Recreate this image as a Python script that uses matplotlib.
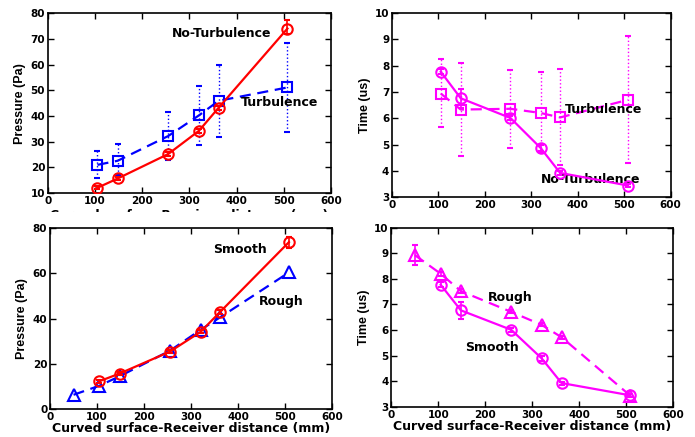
import matplotlib
matplotlib.use("Agg")
import matplotlib.pyplot as plt
from matplotlib.transforms import Bbox, TransformedBbox

plt.rcParams['font.family'] = ['Liberation Sans', 'DejaVu Sans']
plt.rcParams['font.weight'] = 'bold'
plt.rcParams['axes.labelweight'] = 'bold'

# distances (mm)
dist = [105, 148, 255, 320, 362, 508]
dist_rough = [50, 105, 148, 255, 320, 362, 508]

# top-left: pressure, turbulence comparison
p_noturb = [12.1, 15.7, 25.2, 34.2, 43.2, 74.0]
p_noturb_lo = [0.6, 0.6, 0.7, 0.7, 0.8, 2.3]
p_noturb_hi = [0.6, 0.6, 0.7, 0.7, 0.8, 3.4]
p_turb = [21.0, 22.6, 32.2, 40.2, 45.9, 51.1]
p_turb_lo = [5.2, 5.5, 9.4, 11.5, 14.2, 17.5]
p_turb_hi = [5.5, 6.7, 9.5, 11.6, 14.1, 17.4]

# top-right: time, turbulence comparison
t_noturb = [7.77, 6.76, 6.01, 4.87, 3.92, 3.44]
t_noturb_err = [0.1, 0.36, 0.08, 0.1, 0.08, 0.06]
t_turb = [6.94, 6.33, 6.36, 6.20, 6.03, 6.70]
t_turb_lo = [1.29, 1.75, 1.48, 1.48, 1.80, 2.40]
t_turb_hi = [1.30, 1.76, 1.46, 1.55, 1.83, 2.43]

# bottom-left: pressure, smooth vs rough
p_smooth = [12.3, 15.7, 25.4, 34.1, 43.0, 73.8]
p_smooth_err = [0.6, 0.6, 0.7, 0.7, 0.8, 2.4]
p_rough = [6.3, 10.3, 14.5, 25.8, 35.0, 40.6, 60.4]

# bottom-right: time, smooth vs rough
t_smooth = [7.77, 6.77, 6.01, 4.89, 3.93, 3.45]
t_smooth_err = [0.1, 0.33, 0.07, 0.08, 0.06, 0.05]
t_rough = [8.93, 8.20, 7.52, 6.71, 6.20, 5.72, 3.44]
t_rough_err = [0.38, 0.08, 0.07, 0.06, 0.06, 0.06, 0.05]

RED = '#ff0000'
BLUE = '#0000ff'
MAG = '#ff00ff'
XLABEL = 'Curved surface-Receiver distance (mm)'
WIDE = ['DejaVu Sans']

fig = plt.figure(figsize=(6.95, 4.37), dpi=100)


def style(ax, ylim, yticks):
    ax.set_xlim(0, 600)
    ax.set_xticks(range(0, 601, 100))
    ax.set_ylim(*ylim)
    ax.set_yticks(yticks)
    ax.tick_params(direction='in', top=True, right=True, length=4, width=1,
                   labelsize=7.5, pad=2, labelfontfamily='DejaVu Sans')
    for t in ax.get_xticklabels() + ax.get_yticklabels():
        t.set_fontweight('bold')
    for s in ax.spines.values():
        s.set_linewidth(1.2)


def note(ax, x, y, s):
    ax.text(x, y, s, fontsize=9, fontweight='bold', family=WIDE,
            va='center', ha='left')


# top-left
ax1 = fig.add_axes([0.069, 0.558, 0.407, 0.412])
ax1.errorbar(dist, p_turb, yerr=[p_turb_lo, p_turb_hi], color=BLUE, ls=(0, (5, 3)),
             lw=1.6, marker='s', ms=6.5, mfc='none', mew=1.5, capsize=2,
             elinewidth=1.0, zorder=2)
for c in ax1.containers[0][2]:
    c.set_linestyle(':')
ax1.errorbar(dist, p_noturb, yerr=[p_noturb_lo, p_noturb_hi], color=RED, ls='-',
             lw=1.6, marker='o', ms=7.5, mfc='none', mew=1.5, capsize=2,
             elinewidth=1.2, zorder=3)
style(ax1, (10, 80), range(10, 81, 10))
ax1.set_ylabel('Pressure (Pa)', fontsize=9, labelpad=3)
lbl = ax1.set_xlabel(XLABEL, fontsize=9, family=WIDE, labelpad=2)
note(ax1, 262, 72, 'No-Turbulence')
note(ax1, 410, 45.3, 'Turbulence')

# top-right
ax2 = fig.add_axes([0.564, 0.549, 0.401, 0.421])
ax2.errorbar(dist, t_turb, yerr=[t_turb_lo, t_turb_hi], color=MAG, ls=(0, (5, 3)),
             lw=1.6, marker='s', ms=6.5, mfc='none', mew=1.5, capsize=2,
             elinewidth=1.0, zorder=2)
for c in ax2.containers[0][2]:
    c.set_linestyle(':')
ax2.errorbar(dist, t_noturb, yerr=t_noturb_err, color=MAG, ls='-',
             lw=1.6, marker='o', ms=7.5, mfc='none', mew=1.5, capsize=2,
             elinewidth=1.2, zorder=3)
style(ax2, (3, 10), range(3, 11))
ax2.set_ylabel('Time (us)', fontsize=9, labelpad=3)
note(ax2, 372, 6.33, 'Turbulence')
note(ax2, 321, 3.67, 'No-Turbulence')

# bottom-left
ax3 = fig.add_axes([0.072, 0.064, 0.406, 0.414])
ax3.errorbar(dist_rough, p_rough, color=BLUE, ls=(0, (5, 3)), lw=1.6,
             marker='^', ms=8, mfc='none', mew=1.5, zorder=2)
ax3.errorbar(dist, p_smooth, yerr=p_smooth_err, color=RED, ls='-', lw=1.6,
             marker='o', ms=7.5, mfc='none', mew=1.5, capsize=2,
             elinewidth=1.2, zorder=3)
style(ax3, (0, 80), range(0, 81, 20))
ax3.set_ylabel('Pressure (Pa)', fontsize=9, labelpad=3)
ax3.set_xlabel(XLABEL, fontsize=9, family=WIDE, labelpad=0)
note(ax3, 347, 70.5, 'Smooth')
note(ax3, 445, 47.4, 'Rough')

# bottom-right
ax4 = fig.add_axes([0.563, 0.069, 0.406, 0.410])
ax4.errorbar(dist_rough, t_rough, yerr=t_rough_err, color=MAG, ls=(0, (5, 3)),
             lw=1.6, marker='^', ms=8, mfc='none', mew=1.5, capsize=2,
             elinewidth=1.2, zorder=2)
ax4.errorbar(dist, t_smooth, yerr=t_smooth_err, color=MAG, ls='-', lw=1.6,
             marker='o', ms=7.5, mfc='none', mew=1.5, capsize=2,
             elinewidth=1.2, zorder=3)
style(ax4, (3, 10), range(3, 11))
ax4.set_ylabel('Time (us)', fontsize=9, labelpad=3)
ax4.set_xlabel(XLABEL, fontsize=9, family=WIDE, labelpad=0)
note(ax4, 206, 7.26, 'Rough')
note(ax4, 156, 5.33, 'Smooth')

# the upper-left x label is partly hidden by the lower row in the original
lbl.set_clip_on(True)
lbl.set_clip_box(TransformedBbox(Bbox.from_extents(0, 0.515, 1, 1), fig.transFigure))

fig.savefig('out.png', dpi=100)
